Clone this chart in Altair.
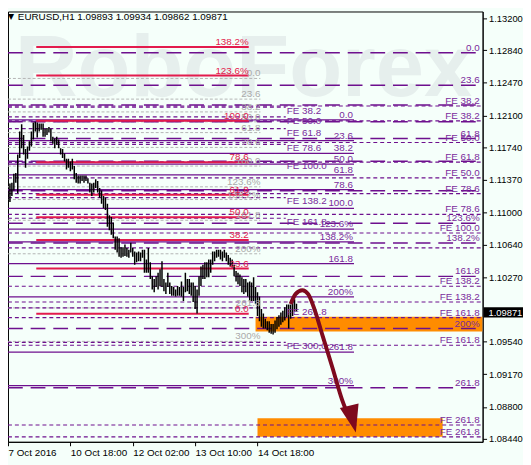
import altair as alt
import pandas as pd

# ---------------- axis values ----------------
price_ticks = [1.13200, 1.12840, 1.12470, 1.12100, 1.11740, 1.11370, 1.11000,
               1.10640, 1.10270, 1.09540, 1.09170, 1.08800, 1.08440]
time_ticks = [0, 32, 64, 96, 128]
time_labels = ["7 Oct 2016", "10 Oct 18:00", "12 Oct 02:00", "13 Oct 10:00", "14 Oct 18:00"]
last_price = 1.09871
title_text = "EURUSD,H1  1.09893 1.09934 1.09862 1.09871"

# ---------------- hourly bars (index = hours since 7 Oct 2016 10:00) ----------------
bar_high = [1.1125, 1.1133, 1.1134, 1.1144, 1.1145, 1.1166, 1.1192, 1.1200, 1.1188, 1.1172,
            1.1175, 1.1181, 1.1192, 1.1202, 1.1203, 1.1202, 1.1201, 1.1201, 1.1201, 1.1195,
            1.1196, 1.1197, 1.1195, 1.1186, 1.1184, 1.1186, 1.1183, 1.1173, 1.1172, 1.1167,
            1.1161, 1.1161, 1.1158, 1.1161, 1.1153, 1.1145, 1.1142, 1.1142, 1.1142, 1.1142,
            1.1142, 1.1139, 1.1134, 1.1133, 1.1134, 1.1138, 1.1136, 1.1128, 1.1125, 1.1119,
            1.1117, 1.1110, 1.1097, 1.1095, 1.1089, 1.1073, 1.1073, 1.1071, 1.1061, 1.1061,
            1.1064, 1.1060, 1.1058, 1.1066, 1.1060, 1.1056, 1.1055, 1.1056, 1.1055, 1.1058,
            1.1058, 1.1047, 1.1060, 1.1044, 1.1028, 1.1025, 1.1028, 1.1032, 1.1036, 1.1045,
            1.1025, 1.1021, 1.1032, 1.1021, 1.1017, 1.1016, 1.1013, 1.1017, 1.1016, 1.1022,
            1.1016, 1.1032, 1.1025, 1.1025, 1.1021, 1.1021, 1.1017, 1.1013, 1.1028, 1.1039,
            1.1041, 1.1044, 1.1044, 1.1047, 1.1047, 1.1056, 1.1056, 1.1058, 1.1058, 1.1058,
            1.1056, 1.1058, 1.1055, 1.1052, 1.1049, 1.1047, 1.1041, 1.1034, 1.1032, 1.1030,
            1.1027, 1.1025, 1.1025, 1.1021, 1.1022, 1.1021, 1.1027, 1.1016, 1.1010, 1.1005,
            1.0991, 1.0986, 1.0980, 1.0977, 1.0977, 1.0974, 1.0974, 1.0978, 1.0982, 1.0984,
            1.0987, 1.0989, 1.0993, 1.0996, 1.0996, 1.0996, 1.1000, 1.1002, 1.0997]
bar_low = [1.1106, 1.1112, 1.1119, 1.1125, 1.1134, 1.1122, 1.1162, 1.1173, 1.1166, 1.1151,
           1.1161, 1.1170, 1.1175, 1.1183, 1.1192, 1.1185, 1.1192, 1.1194, 1.1186, 1.1186,
           1.1188, 1.1191, 1.1181, 1.1178, 1.1173, 1.1177, 1.1173, 1.1166, 1.1162, 1.1158,
           1.1149, 1.1151, 1.1147, 1.1149, 1.1138, 1.1134, 1.1133, 1.1133, 1.1136, 1.1134,
           1.1136, 1.1133, 1.1123, 1.1119, 1.1123, 1.1128, 1.1123, 1.1117, 1.1110, 1.1105,
           1.1103, 1.1084, 1.1080, 1.1075, 1.1071, 1.1058, 1.1055, 1.1050, 1.1049, 1.1050,
           1.1051, 1.1050, 1.1049, 1.1055, 1.1050, 1.1041, 1.1044, 1.1045, 1.1045, 1.1049,
           1.1032, 1.1032, 1.1032, 1.1025, 1.1013, 1.1010, 1.1016, 1.1013, 1.1017, 1.1016,
           1.1011, 1.1008, 1.1016, 1.1008, 1.1006, 1.1006, 1.1005, 1.1006, 1.1006, 1.1005,
           1.1000, 1.1010, 1.1011, 1.1008, 1.1006, 1.0999, 1.0991, 1.0986, 1.1006, 1.1017,
           1.1025, 1.1025, 1.1027, 1.1027, 1.1032, 1.1041, 1.1045, 1.1049, 1.1050, 1.1047,
           1.1045, 1.1049, 1.1045, 1.1041, 1.1039, 1.1038, 1.1028, 1.1022, 1.1019, 1.1017,
           1.1010, 1.1008, 1.1010, 1.1005, 1.1000, 1.1000, 1.1000, 1.0997, 1.0983, 1.0977,
           1.0971, 1.0969, 1.0969, 1.0967, 1.0964, 1.0963, 1.0962, 1.0964, 1.0968, 1.0971,
           1.0973, 1.0976, 1.0978, 1.0982, 1.0969, 1.0980, 1.0983, 1.0988, 1.0988]

# ---------------- Fibonacci tools ----------------
red_labels = ["0.0", "23.6", "38.2", "50.0", "61.8", "78.6", "100.0", "123.6%", "138.2%"]
red_prices = [1.09855, 1.10368, 1.10691, 1.10948, 1.11204, 1.11572, 1.12040, 1.12553, 1.12877]

gray_labels = ["0.0", "23.6", "38.2", "50.0", "61.8", "78.6", "100.0", "123.6%", "138.2%",
               "161.8", "200%", "261.8", "300%"]
gray_prices = [1.12520, 1.12286, 1.12141, 1.12029, 1.11907, 1.11739, 1.11528, 1.11293, 1.11149,
               1.10914, 1.10535, 1.09922, 1.09543]

pdash_labels = ["0.0", "23.6", "", "", "61.8", "", "", "123.6%", "138.2%", "161.8", "200%", "261.8"]
pdash_prices = [1.12810, 1.12442, 1.12219, 1.12029, 1.11840, 1.11583, 1.11249, 1.10881, 1.10658,
                1.10279, 1.09688, 1.09018]

psolid_labels = ["0.0", "23.6", "38.2", "50.0", "61.8", "78.6", "100.0", "123.6%", "138.2%",
                 "161.8", "200%", "261.8", "300%"]
psolid_prices = [1.12052, 1.11817, 1.11672, 1.11550, 1.11427, 1.11260, 1.11048, 1.10814, 1.10669,
                 1.10424, 1.10046, 1.09421, 1.09042]

fe_mid_labels = ["FE 38.2", "FE 50.0", "FE 61.8", "FE 78.6", "FE 100.0", "FE 138.2", "FE 161.8",
                 "FE 261.8", "FE 300,0"]
fe_mid_prices = [1.12196, 1.12085, 1.11951, 1.11773, 1.11572, 1.11171, 1.10937, 1.09922, 1.09532]

fe_right_labels = ["FE 38.2", "FE 38.2", "FE 50.0", "FE 61.8", "FE 50.0", "FE 78.6", "FE 78.6",
                   "FE 100.0", "", "FE 138.2", "FE 138.2", "FE 161.8", "FE 161.8", "FE 261.8",
                   "FE 261.8"]
fe_right_prices = [1.12208, 1.12040, 1.11795, 1.11572, 1.11394, 1.11215, 1.10981, 1.10770,
                   1.10602, 1.10167, 1.09989, 1.09812, 1.09499, 1.08596, 1.08462]

# target zones
zone_h0 = [127, 128]
zone_h1 = [243.5, 223]
zone_top = [1.09822, 1.08674]
zone_bot = [1.09655, 1.08462]

# forecast arrow
arrow_h = [145, 147.5, 151, 154, 157.5, 161.5, 166.5, 171.5, 174.5]
arrow_p = [1.09967, 1.10078, 1.10123, 1.10078, 1.09889, 1.09599, 1.09242, 1.08875, 1.08708]
arrowhead_h = [176.75]
arrowhead_p = [1.08663]

# ---------------- styles ----------------
FONT = "Liberation Sans"
BG = "#f5fffa"
PURPLE = "#6e108e"
PURPLE_TXT = "#7a2a9c"
RED = "#e31b4d"
GRAY = "#b4b4b4"
ORANGE = "#ff8c00"
MAROON = "#7e0a1e"

H_MAX = 243.5
xs = alt.Scale(domain=[0, H_MAX], nice=False, zero=False)
ys = alt.Scale(domain=[1.08406, 1.13278], nice=False, zero=False)

label_expr = " : ".join(
    [f"datum.value == {v} ? '{t}'" for v, t in zip(time_ticks, time_labels)]
) + " : ''"

X_AXIS = alt.Axis(
    orient="bottom", values=time_ticks, labelExpr=label_expr, title=None,
    labelAlign="left", labelFont=FONT, labelFontSize=10, labelColor="black",
    tickColor="black", tickSize=4, domainColor="black", labelPadding=2,
    labelOverlap=False, grid=False, labelFlush=False)
Y_AXIS = alt.Axis(
    orient="right", values=price_ticks, format=".5f", title=None,
    labelFont=FONT, labelFontSize=9.5, labelColor="black", tickColor="black",
    tickSize=4, domainColor="black", labelPadding=2, grid=False,
    labelOverlap=False, labelFlush=False)


def X(field):
    return alt.X(field, type="quantitative", scale=xs, axis=X_AXIS)


def Y(field):
    return alt.Y(field, type="quantitative", scale=ys, axis=Y_AXIS)


bars = pd.DataFrame({"h": list(range(len(bar_high))), "high": bar_high, "low": bar_low})

candles = alt.Chart(bars).mark_rule(color="black", strokeWidth=1.5, clip=True).encode(
    x=X("h"), y=Y("high"), y2="low:Q",
)


def rule_df(labels, prices, h0, h1, hl):
    return pd.DataFrame({"label": labels, "p": prices, "h0": h0, "h1": h1, "hl": hl})


def rule_layer(df, color, width, dash=None):
    kw = dict(color=color, strokeWidth=width, clip=True)
    if dash:
        kw["strokeDash"] = dash
    return alt.Chart(df).mark_rule(**kw).encode(x=X("h0"), x2="h1:Q", y=Y("p"))


def label_layer(df, color, align, dy, baseline="alphabetic"):
    return alt.Chart(df).mark_text(
        align=align, baseline=baseline, dy=dy, color=color, font=FONT, fontSize=10, clip=True
    ).encode(x=X("hl"), y=Y("p"), text="label:N")


red_df = rule_df(red_labels, red_prices, 14.5, 123.5, 123.5)
gray_df = rule_df(gray_labels, gray_prices, 0, 129.5, 129.5)
pdash_df = rule_df(pdash_labels, pdash_prices, 0, H_MAX, 242)
psolid_df = rule_df(psolid_labels, psolid_prices, 0, 177.5, 177)
femid_df = rule_df(fe_mid_labels, fe_mid_prices, 0, 142.5, 143)
feright_df = rule_df(fe_right_labels, fe_right_prices, 0, H_MAX, 242)

zones = pd.DataFrame({"h0": zone_h0, "h1": zone_h1, "top": zone_top, "bot": zone_bot})
zone_layer = alt.Chart(zones).mark_rect(color=ORANGE, clip=True).encode(
    x=X("h0"), x2="h1:Q", y=Y("top"), y2="bot:Q",
)

watermark = alt.Chart(pd.DataFrame({"t": ["RoboForex"]})).mark_text(
    align="left", baseline="alphabetic", font=FONT, fontSize=88, fontWeight="bold",
    color="#e6efed"
).encode(x=alt.value(7), y=alt.value(86), text="t:N")

arrow_df = pd.DataFrame({"h": arrow_h, "p": arrow_p})
arrow_line = alt.Chart(arrow_df).mark_line(
    color=MAROON, strokeWidth=4, interpolate="monotone", clip=True
).encode(x=X("h"), y=Y("p"))

head_df = pd.DataFrame({"h": arrowhead_h, "p": arrowhead_p})
arrow_head = alt.Chart(head_df).mark_point(
    shape="M -0.7 -1 L 0.7 -1 L 0 1 Z", filled=True, size=784, angle=346,
    color=MAROON, opacity=1, strokeWidth=0
).encode(x=X("h"), y=Y("p"))

tag_df = pd.DataFrame({"p": [last_price], "t": [f"{last_price:.5f}"]})
tag_box = alt.Chart(tag_df).transform_calculate(
    top="datum.p + 0.00058", bot="datum.p - 0.00058"
).mark_rect(color="black").encode(
    x=alt.value(483), x2=alt.value(523), y=Y("top"), y2="bot:Q",
)
tag_text = alt.Chart(tag_df).mark_text(
    align="left", baseline="middle", font=FONT, fontSize=9.5, color="white", dy=1
).encode(x=alt.value(488), y=Y("p"), text="t:N")

title_df = pd.DataFrame({"t": [title_text]})
title_layer = alt.Chart(title_df).mark_text(
    align="left", baseline="middle", font=FONT, fontSize=10, color="black"
).encode(x=alt.value(10), y=alt.value(6), text="t:N")
tri_layer = alt.Chart(pd.DataFrame({"t": ["\u25bc"]})).mark_text(
    align="left", baseline="middle", fontSize=8, color="black", font="DejaVu Sans"
).encode(x=alt.value(0), y=alt.value(6), text="t:N")

chart = alt.layer(
    candles.mark_rule(opacity=0),
    watermark,
    zone_layer,
    rule_layer(gray_df, GRAY, 1, [3, 2]),
    rule_layer(psolid_df, PURPLE, 1.3),
    rule_layer(pdash_df, PURPLE, 1.5, [15, 8]),
    rule_layer(femid_df, PURPLE, 1.2, [4, 3]),
    rule_layer(feright_df, PURPLE, 1.2, [4, 3]),
    rule_layer(red_df, RED, 2),
    candles,
    label_layer(gray_df, "#aaaaaa", "right", -2),
    label_layer(psolid_df, PURPLE_TXT, "right", -2),
    label_layer(pdash_df, PURPLE_TXT, "right", -2),
    label_layer(feright_df, PURPLE_TXT, "right", -2),
    label_layer(femid_df, PURPLE_TXT, "left", 4, "middle"),
    label_layer(red_df, RED, "right", -2),
    arrow_line,
    arrow_head,
    tag_box,
    tag_text,
    tri_layer,
    title_layer,
).properties(
    width=482, height=437,
    autosize=alt.AutoSizeParams(type="none"),
    padding={"left": 0, "top": 0, "right": 41, "bottom": 20},
    background=BG,
).configure_view(
    stroke="black", strokeWidth=1, fill=BG
)

chart.save("out.html", embed_options={"renderer": "svg", "actions": False})
